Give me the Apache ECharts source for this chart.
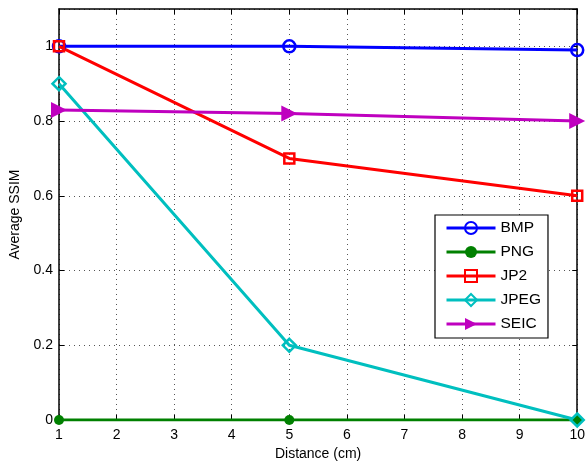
<!DOCTYPE html>
<html><head><meta charset="utf-8">
<script src="https://cdn.jsdelivr.net/npm/echarts@6/dist/echarts.min.js"></script>
<style>html,body{margin:0;padding:0;background:#fff}#c{width:588px;height:466px}</style>
</head><body><div id="c"></div>
<script>
const distances = [1, 5, 10];
const bmp = [1.0, 1.0, 0.99];
const png = [0, 0, 0];
const jp2 = [1.0, 0.70, 0.60];
const jpeg = [0.90, 0.20, 0.0];
const seic = [0.83, 0.82, 0.80];
const xTicks = [1,2,3,4,5,6,7,8,9,10];
const yTicks = [0, 0.2, 0.4, 0.6, 0.8, 1];

const font = 'Liberation Sans, Arial, Helvetica, sans-serif';
function pts(v){ return distances.map((d,i)=>[d, v[i]]); }
function mk(name, data, color, symbol, size, filled, rot){
  return {
    name, type:'line', data: pts(data), symbol, symbolSize: size, symbolRotate: rot||0,
    lineStyle:{color, width:3},
    itemStyle:{color: filled ? color : 'rgba(0,0,0,0)', borderColor: color, borderWidth: filled?0:2.5},
    emphasis:{disabled:true}, animation:false, z: 3
  };
}
const chart = echarts.init(document.getElementById('c'), null, {renderer:'canvas'});
const gridLine = {show:true, lineStyle:{color:'#555', type:[1,4], width:1}};
chart.setOption({
  animation:false,
  grid:{left:59, right:9, top:9, bottom:46, containLabel:false, show:false},
  xAxis:[{
    type:'value', min:1, max:10, interval:1,
    name:'Distance (cm)', nameLocation:'middle', nameGap:26,
    nameTextStyle:{fontFamily:font, fontSize:14, color:'#000'},
    axisLine:{show:true, lineStyle:{color:'#000', width:1.5}},
    axisTick:{show:true, inside:true, length:5, lineStyle:{color:'#000'}},
    axisLabel:{fontFamily:font, fontSize:14, color:'#000', margin:8, formatter:v=>xTicks.includes(v)?String(v):''},
    splitLine:gridLine
  },{
    type:'value', min:1, max:10, interval:1, position:'top',
    axisLine:{show:true, onZero:false, lineStyle:{color:'#000', width:1.5}},
    axisTick:{show:true, inside:true, length:5, lineStyle:{color:'#000'}},
    axisLabel:{show:false}, splitLine:{show:false}
  }],
  yAxis:[{
    type:'value', min:0, max:1.1, interval:0.2,
    name:'Average SSIM', nameLocation:'middle', nameGap:34, nameRotate:90,
    nameTextStyle:{fontFamily:font, fontSize:14, color:'#000'},
    axisLine:{show:true, lineStyle:{color:'#000', width:1.5}},
    axisTick:{show:true, inside:true, length:5, lineStyle:{color:'#000'}},
    axisLabel:{fontFamily:font, fontSize:14, color:'#000', margin:6, showMaxLabel:false,
      formatter:v=>{const t=yTicks.find(y=>Math.abs(y-v)<1e-6); return t===undefined?'':String(t);}},
    splitLine:gridLine
  },{
    type:'value', min:0, max:1.1, interval:0.2, position:'right',
    axisLine:{show:true, onZero:false, lineStyle:{color:'#000', width:1.5}},
    axisTick:{show:true, inside:true, length:5, lineStyle:{color:'#000'}},
    axisLabel:{show:false}, splitLine:{show:false}
  }],
  legend:{
    orient:'vertical', left:435, top:215, width:112,
    padding:[5,7,6,10], itemGap:8, itemWidth:49, itemHeight:15,
    backgroundColor:'#fff', borderColor:'#000', borderWidth:1.2, borderRadius:0,
    textStyle:{fontFamily:font, fontSize:15.5, color:'#000'},
    lineStyle:{width:3},
    data:['BMP','PNG','JP2','JPEG','SEIC']
  },
  series:[
    mk('BMP', bmp, '#0000ff', 'circle', 12, false),
    mk('PNG', png, '#008000', 'circle', 10, true),
    mk('JP2', jp2, '#ff0000', 'rect', 10, false),
    mk('JPEG', jpeg, '#00bfbf', 'diamond', 13, false),
    mk('SEIC', seic, '#bf00bf', 'triangle', 16, true, -90)
  ]
});
</script></body></html>
